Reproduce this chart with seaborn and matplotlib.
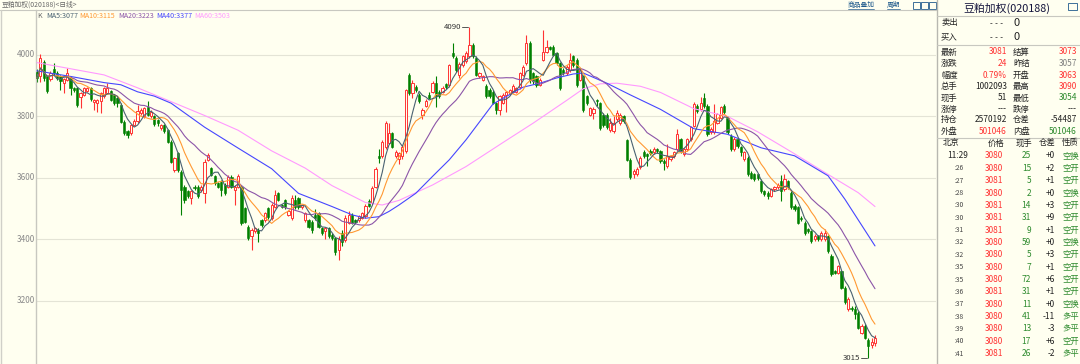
import numpy as np
import pandas as pd
import matplotlib
matplotlib.use("Agg")
import matplotlib.pyplot as plt
import matplotlib.patches as mpatches
from matplotlib.lines import Line2D
import seaborn as sns

# ---------------- data (daily candles) ----------------
opens = [3946,3930,3978,3930,3922,3953,3941,3930,3908,3920,3925,3892,3892,3862,3870,3884,3892,3848,3843,3850,
         3866,3877,3882,3870,3860,3838,3783,3751,3745,3772,3784,3812,3800,3832,3800,3800,3789,3762,3773,3756,
         3718,3626,3680,3620,3572,3556,3535,3572,3572,3561,3550,3659,3632,3605,3583,3588,3578,3572,3604,3561,
         3572,3572,3502,3442,3410,3426,3431,3464,3463,3502,3469,3507,3550,3512,3529,3480,3469,3529,3534,3506,
         3464,3464,3458,3480,3485,3436,3426,3436,3415,3404,3365,3420,3398,3455,3480,3464,3462,3470,3475,3525,
         3520,3572,3672,3670,3700,3714,3745,3670,3660,3670,3686,3935,3876,3897,3870,3806,3835,3870,3880,3910,
         3880,3880,3905,3902,4005,3990,3935,3968,3980,3995,4033,3990,3930,3920,3900,3886,3880,3843,3822,3845,
         3870,3876,3880,3880,3897,3935,3973,4040,3940,3930,3903,3985,4010,4025,4027,4005,3973,3952,3941,3952,
         3995,3984,3920,3930,3865,3806,3810,3854,3843,3805,3805,3756,3751,3790,3778,3800,3724,3659,3612,3612,
         3634,3683,3677,3688,3683,3693,3688,3655,3639,3661,3672,3693,3726,3677,3693,3726,3769,3834,3823,3861,
         3834,3748,3748,3780,3796,3834,3796,3737,3693,3726,3699,3661,3666,3617,3612,3612,3590,3558,3552,3542,
         3563,3569,3590,3563,3590,3552,3509,3504,3471,3455,3433,3428,3401,3411,3401,3401,3411,3346,3298,3292,
         3298,3243,3173,3178,3173,3162,3097,3119,3073,3056,3063]
highs = [3955,4003,3982,3935,3948,3973,3948,3935,3925,3957,3930,3895,3896,3880,3897,3897,3897,3858,3856,3880,
         3895,3908,3886,3874,3864,3842,3787,3755,3776,3790,3838,3826,3832,3849,3820,3804,3792,3776,3776,3760,
         3722,3668,3685,3625,3576,3560,3560,3576,3577,3576,3660,3680,3636,3610,3587,3592,3582,3610,3609,3576,
         3612,3577,3506,3446,3436,3441,3436,3468,3490,3506,3517,3560,3554,3516,3533,3496,3545,3545,3538,3516,
         3490,3468,3462,3500,3490,3440,3440,3440,3420,3408,3410,3430,3478,3494,3485,3468,3480,3490,3515,3530,
         3573,3636,3695,3722,3784,3780,3750,3690,3685,3708,3890,3940,3918,3903,3875,3826,3855,3880,3916,3930,
         3885,3898,3910,3972,4040,3995,3978,4000,4012,4090,4040,3995,3945,3935,3905,3892,3885,3848,3870,3875,
         3884,3890,3905,3897,3945,3968,4065,4045,3945,3935,3925,4080,4050,4030,4033,4010,3978,3957,3967,4005,
         4000,3990,3957,3935,3870,3832,3830,3858,3848,3810,3810,3795,3800,3820,3812,3805,3728,3664,3628,3634,
         3672,3690,3680,3695,3700,3698,3692,3660,3710,3676,3688,3758,3730,3698,3730,3768,3846,3840,3862,3877,
         3840,3764,3840,3812,3834,3840,3800,3742,3732,3730,3704,3688,3672,3622,3617,3616,3595,3562,3556,3568,
         3574,3582,3610,3612,3594,3556,3514,3508,3476,3460,3438,3432,3417,3416,3428,3433,3416,3352,3302,3318,
         3302,3248,3212,3182,3185,3166,3124,3124,3078,3078,3090]
lows = [3912,3913,3915,3876,3915,3935,3920,3886,3876,3915,3870,3880,3832,3827,3865,3878,3850,3822,3815,3810,
        3860,3872,3850,3838,3830,3780,3740,3731,3740,3768,3780,3806,3795,3800,3795,3768,3770,3756,3745,3712,
        3648,3620,3620,3478,3520,3535,3515,3562,3535,3555,3520,3655,3605,3578,3567,3540,3545,3567,3566,3512,
        3567,3448,3452,3398,3366,3420,3393,3442,3458,3468,3464,3502,3524,3502,3500,3475,3464,3500,3500,3500,
        3458,3437,3420,3462,3436,3414,3400,3404,3399,3350,3332,3380,3392,3450,3450,3452,3458,3465,3470,3505,
        3515,3566,3648,3665,3695,3710,3698,3665,3645,3660,3680,3870,3860,3880,3845,3790,3830,3855,3875,3830,
        3860,3875,3890,3895,3990,3945,3925,3962,3975,3990,3990,3930,3925,3915,3860,3860,3840,3808,3806,3840,
        3815,3870,3875,3876,3890,3930,3968,3910,3905,3895,3898,3980,4005,4015,3995,3968,3885,3936,3936,3946,
        3962,3897,3915,3815,3838,3800,3790,3835,3755,3766,3760,3750,3745,3785,3773,3778,3654,3598,3600,3606,
        3628,3666,3640,3675,3678,3682,3650,3625,3633,3655,3666,3688,3682,3672,3688,3720,3764,3812,3818,3828,
        3736,3742,3742,3775,3790,3808,3742,3688,3688,3698,3672,3655,3606,3596,3590,3594,3552,3540,3530,3537,
        3558,3564,3525,3558,3563,3498,3492,3450,3460,3416,3422,3390,3396,3395,3396,3396,3357,3280,3287,3287,
        3238,3190,3168,3168,3140,3108,3092,3076,3015,3048,3054]
closes = [3925,3989,3924,3882,3940,3940,3925,3914,3921,3941,3892,3886,3838,3876,3892,3891,3855,3854,3853,3876,
          3892,3893,3854,3843,3844,3783,3746,3741,3772,3784,3816,3821,3827,3806,3815,3774,3779,3772,3751,3718,
          3653,3664,3627,3561,3529,3541,3556,3567,3540,3571,3653,3675,3610,3583,3572,3561,3551,3604,3572,3572,
          3605,3453,3458,3404,3431,3437,3420,3447,3485,3474,3512,3545,3529,3507,3507,3491,3534,3507,3507,3512,
          3485,3442,3431,3469,3442,3420,3436,3410,3404,3360,3400,3392,3470,3480,3455,3458,3475,3485,3510,3510,
          3568,3630,3666,3718,3778,3745,3702,3685,3680,3702,3886,3876,3910,3886,3850,3820,3850,3860,3910,3865,
          3865,3893,3895,3967,3995,3952,3972,3995,4005,4033,3995,3935,3940,3930,3865,3865,3845,3822,3865,3870,
          3880,3886,3900,3892,3940,3962,4040,3920,3915,3903,3920,4010,4027,4020,4000,3973,3892,3941,3962,3984,
          3968,3903,3952,3822,3843,3827,3825,3849,3762,3772,3767,3778,3778,3810,3805,3784,3659,3604,3623,3628,
          3666,3672,3672,3680,3693,3688,3655,3650,3672,3672,3683,3742,3688,3693,3726,3764,3840,3818,3845,3834,
          3742,3758,3785,3807,3829,3813,3748,3693,3726,3704,3683,3683,3612,3601,3596,3601,3558,3547,3542,3563,
          3569,3576,3558,3596,3569,3504,3498,3455,3466,3422,3428,3395,3411,3401,3422,3422,3363,3287,3292,3314,
          3243,3195,3206,3173,3157,3113,3119,3081,3054,3067,3081]

# moving averages 40 / 60 at sample candles
ma40_idx = [0, 10, 20, 25, 30, 35, 40, 50, 60, 70, 78, 88, 94, 98, 102, 105, 108, 113, 118, 123, 128,
            136, 140, 145, 150, 155, 160, 163, 170, 177, 186, 196, 206, 216, 226, 236, 241, 250]
ma40_val = [3948, 3930, 3910, 3903, 3880, 3866, 3843, 3765, 3697, 3630, 3550, 3507, 3480, 3469, 3474, 3491, 3512,
            3550, 3605, 3659, 3724, 3840, 3865, 3895, 3908, 3925, 3938, 3941, 3908, 3870, 3823, 3760, 3742,
            3698, 3672, 3607, 3531, 3379]
ma60_idx = [0, 10, 20, 30, 40, 50, 60, 70, 80, 88, 98, 103, 108, 118, 128, 139, 148, 158, 163, 168, 173,
            180, 186, 196, 206, 215, 225, 235, 245, 250]
ma60_val = [3975, 3955, 3935, 3893, 3848, 3803, 3755, 3688, 3632, 3575, 3520, 3512, 3527, 3577, 3637, 3715,
            3778, 3852, 3890, 3906, 3908, 3898, 3878, 3825, 3800, 3750, 3685, 3618, 3552, 3507]

y_ticks = [4000, 3800, 3600, 3400, 3200]
legend_items = ["MA5:3077", "MA10:3115", "MA20:3223", "MA40:3377", "MA60:3503"]

quote_left = [("最新", "3081"), ("涨跌", "24"), ("幅度", "0.79%"), ("总手", "1002093"),
              ("现手", "51"), ("涨停", "---"), ("持仓", "2570192"), ("外盘", "501046")]
quote_right = [("结算", "3073"), ("昨结", "3057"), ("开盘", "3063"), ("最高", "3090"),
               ("最低", "3054"), ("跌停", "---"), ("仓差", "-54487"), ("内盘", "501046")]

tick_times = ["11:29", ":26", ":27", ":28", ":30", ":30", ":31", ":32", ":32", ":35", ":35",
              ":36", ":37", ":38", ":39", ":40", ":41"]
tick_prices = [3080, 3080, 3081, 3080, 3081, 3081, 3081, 3080, 3080, 3080, 3080, 3081, 3080,
               3080, 3080, 3080, 3081]
tick_vols = [25, 15, 5, 2, 14, 31, 9, 59, 5, 7, 72, 31, 11, 41, 13, 17, 26]
tick_oi = ["+0", "+2", "+1", "+0", "+3", "+9", "+1", "+0", "+3", "+1", "+6", "+1", "+0",
           "-11", "-3", "+6", "-2"]
tick_kind = ["空换", "空开", "空开", "空换", "空开", "空开", "空开", "空换", "空开", "空开", "空开",
             "空开", "空换", "多平", "多平", "空开", "多平"]

# ---------------- style ----------------
sns.set_style("white")
plt.rcParams['font.family'] = ['Noto Sans CJK SC', 'DejaVu Sans']

BG = "#fffff0"
RED = "#ff3333"
GREEN = "#008000"
TGREEN = "#2e8b2e"
INK = "#222222"
C_MA5 = "#4a6272"
C_MA10 = "#ff9933"
C_MA20 = "#8c55a8"
C_MA40 = "#4646ff"
C_MA60 = "#ff99ff"
GRID = "#e4e4d6"
W, H = 1080, 364
FS = 6.0

fig = plt.figure(figsize=(10.8, 3.64), dpi=100, facecolor=BG)


def fx(x):
    return x / W


def fy(y):
    return 1 - y / H


ax = fig.add_axes([fx(36), 0, (936 - 36) / W, (H - 10) / H])
ax.set_facecolor(BG)

n = len(closes)
idx = np.arange(n)
df = pd.DataFrame({"idx": idx, "open": opens, "high": highs, "low": lows, "close": closes})
df["ma5"] = df["close"].rolling(5, min_periods=1).mean()
df["ma10"] = df["close"].rolling(10, min_periods=1).mean()
df["ma20"] = df["close"].rolling(20, min_periods=1).mean()

for yv in y_ticks:
    ax.axhline(yv, color=GRID, lw=0.8, zorder=0)

up = df["close"] >= df["open"]
cols = np.where(up, RED, GREEN)
ax.vlines(df["idx"], df["low"], df["high"], colors=cols, lw=0.8, zorder=2)
body_bottom = np.minimum(df["open"], df["close"])
body_h = np.maximum(np.abs(df["close"] - df["open"]), 2)
ax.bar(df["idx"][up], body_h[up], bottom=body_bottom[up], width=0.66,
       facecolor=BG, edgecolor=RED, linewidth=0.7, zorder=3)
ax.bar(df["idx"][~up], body_h[~up], bottom=body_bottom[~up], width=0.66,
       facecolor=GREEN, edgecolor=GREEN, linewidth=0.4, zorder=3)

sns.lineplot(x=ma60_idx, y=ma60_val, ax=ax, color=C_MA60, lw=0.8, zorder=4, legend=False)
sns.lineplot(x=ma40_idx, y=ma40_val, ax=ax, color=C_MA40, lw=0.8, zorder=4, legend=False)
sns.lineplot(x=df["idx"], y=df["ma20"], ax=ax, color=C_MA20, lw=0.8, zorder=4, legend=False)
sns.lineplot(x=df["idx"], y=df["ma10"], ax=ax, color=C_MA10, lw=0.8, zorder=4, legend=False)
sns.lineplot(x=df["idx"], y=df["ma5"], ax=ax, color=C_MA5, lw=0.8, zorder=4, legend=False)

# high / low markers
imax = int(np.argmax(highs))
imin = int(np.argmin(lows))
ax.plot([imax - 2.2, imax - 0.4], [highs[imax], highs[imax]], color="#555555", lw=0.7, zorder=5)
ax.text(imax - 2.4, highs[imax], str(highs[imax]), ha="right", va="center", fontsize=5.6,
        color="#333333", zorder=5)
ax.plot([imin - 2.2, imin - 0.4], [lows[imin], lows[imin]], color="#555555", lw=0.7, zorder=5)
ax.text(imin - 2.4, lows[imin], str(lows[imin]), ha="right", va="center", fontsize=5.6,
        color="#333333", zorder=5)

sp = 3.352
ax.set_xlim(-1 / sp, -1 / sp + 900 / sp)
ax.set_ylim(2995, 4146)
ax.set_xticks([])
ax.set_yticks([])
ax.set_xlabel("")
ax.set_ylabel("")
for s in ["top", "right", "bottom"]:
    ax.spines[s].set_visible(False)
ax.spines["left"].set_color("#c8c8c0")
ax.spines["left"].set_linewidth(1.0)

for yv in y_ticks:
    ax.text(-1.2 / sp - 0.2, yv, str(yv), ha="right", va="center", fontsize=5.9,
            color="#8a8a8a", transform=ax.transData, clip_on=False)

# ---------------- frame lines ----------------
fig.add_artist(Line2D([0, fx(936)], [fy(9.5), fy(9.5)], color="#c8c8c0", lw=0.8))
fig.add_artist(Line2D([fx(936.5), fx(936.5)], [0, 1], color="#b8b8b0", lw=1.0))
fig.add_artist(Line2D([fx(0.5), fx(0.5)], [0, fy(9.5)], color="#d0d0c8", lw=1.0))
for yl in [15.5, 44.5, 137.5]:
    fig.add_artist(Line2D([fx(937), 1], [fy(yl), fy(yl)], color="#c8c8c0", lw=0.8))

# title bar
fig.text(fx(2), fy(4.5), "豆粕加权(020188)<日线>", fontsize=4.9, color="#666666", va="center", ha="left")
fig.text(fx(848), fy(5), "商品叠加", fontsize=4.9, color="#1f5a8c", va="center", ha="left")
fig.text(fx(887), fy(5), "周期", fontsize=4.9, color="#1f5a8c", va="center", ha="left")
fig.add_artist(Line2D([fx(848), fx(874)], [fy(9), fy(9)], color="#1f5a8c", lw=0.5))
fig.add_artist(Line2D([fx(887), fx(900)], [fy(9), fy(9)], color="#1f5a8c", lw=0.5))
for xb in [913, 921, 929]:
    fig.add_artist(mpatches.Rectangle((fx(xb), fy(8.5)), 6.5 / W, 6 / H, fill=False,
                                      edgecolor="#1f5a8c", lw=0.6))
fig.add_artist(mpatches.Rectangle((fx(1068), fy(10)), 9 / W, 7 / H, fill=False,
                                  edgecolor="#1f5a8c", lw=0.6))

# MA legend row
fig.text(fx(37), fy(16), "K", fontsize=5.1, color="#666666", va="center")
leg_x = [46, 79, 118, 156, 194]
leg_c = [C_MA5, C_MA10, C_MA20, C_MA40, C_MA60]
for t, x, c in zip(legend_items, leg_x, leg_c):
    fig.text(fx(x), fy(16), t, fontsize=5.1, color=c, va="center", ha="left")

# ---------------- right quote panel ----------------
fig.text(fx(1007), fy(8), "豆粕加权(020188)", fontsize=7.8, color="#14143c", va="center", ha="center")
for lab, y in [("卖出", 23), ("买入", 37)]:
    fig.text(fx(941), fy(y), lab, fontsize=FS, color=INK, va="center")
    fig.text(fx(997), fy(y), "- - -", fontsize=5.5, color="#333333", va="center", ha="center",
             family="DejaVu Sans")
    fig.text(fx(1013), fy(y), "0", fontsize=8, color=INK, va="center", ha="left")

ys = [52, 63.5, 75, 86.5, 98, 109, 120, 131]
lcol = [RED, RED, RED, INK, INK, INK, INK, RED]
rcol = [RED, "#808080", RED, RED, TGREEN, INK, INK, TGREEN]
for (l1, v1), (l2, v2), y, c1, c2 in zip(quote_left, quote_right, ys, lcol, rcol):
    fig.text(fx(941), fy(y), l1, fontsize=FS, color=INK, va="center")
    fig.text(fx(1007), fy(y), v1, fontsize=FS, color=c1, va="center", ha="right",
             family="DejaVu Sans" if v1 == "---" else None)
    fig.text(fx(1013), fy(y), l2, fontsize=FS, color=INK, va="center")
    fig.text(fx(1077), fy(y), v2, fontsize=FS, color=c2, va="center", ha="right",
             family="DejaVu Sans" if v2 == "---" else None)

fig.text(fx(943), fy(143), "北京", fontsize=FS, color=INK, va="center")
fig.text(fx(996), fy(143), "价格", fontsize=FS, color=INK, va="center", ha="center")
fig.text(fx(1024), fy(143), "现手", fontsize=FS, color=INK, va="center", ha="center")
fig.text(fx(1047), fy(143), "仓差", fontsize=FS, color=INK, va="center", ha="center")
fig.text(fx(1070), fy(143), "性质", fontsize=FS, color=INK, va="center", ha="center")

for i, (t, p, v, o, k) in enumerate(zip(tick_times, tick_prices, tick_vols, tick_oi, tick_kind)):
    y = 156 + i * 12.35
    if i == 0:
        fig.text(fx(947), fy(y), t, fontsize=FS, color=INK, va="center")
    else:
        fig.text(fx(955), fy(y), t, fontsize=4.8, color="#444444", va="center")
    fig.text(fx(1003), fy(y), str(p), fontsize=FS, color=RED, va="center", ha="right")
    fig.text(fx(1031), fy(y), str(v), fontsize=FS, color=TGREEN, va="center", ha="right")
    fig.text(fx(1055), fy(y), o, fontsize=FS, color=INK, va="center", ha="right")
    fig.text(fx(1062), fy(y), k, fontsize=FS, color=TGREEN, va="center", ha="left")

fig.savefig("out.png", dpi=100, facecolor=BG)
